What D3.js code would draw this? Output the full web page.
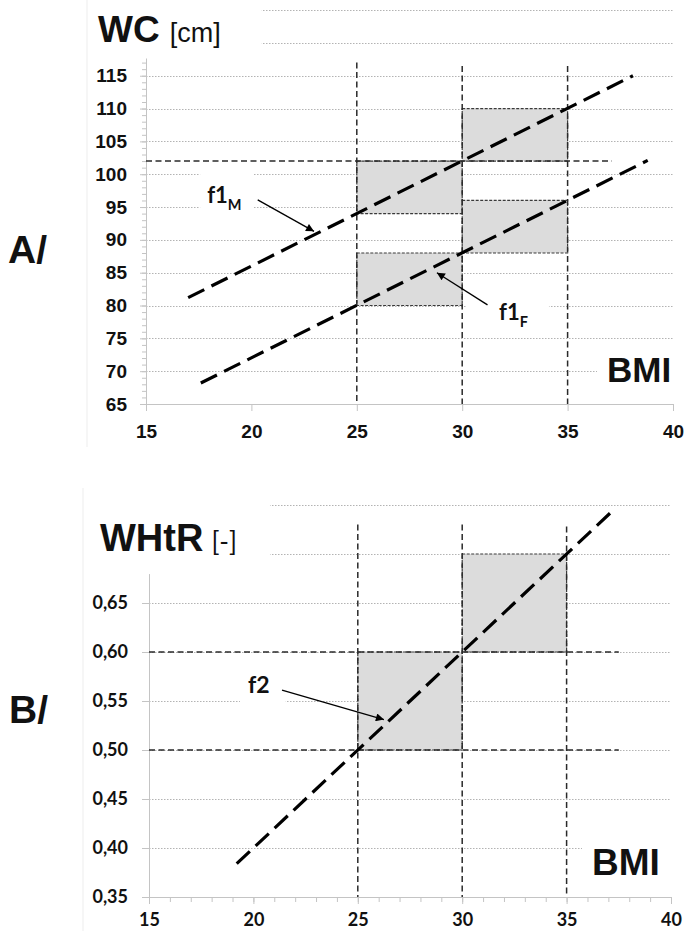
<!DOCTYPE html>
<html>
<head>
<meta charset="utf-8">
<script src="https://cdn.jsdelivr.net/npm/d3@7"></script>
<style>
  html, body { margin: 0; padding: 0; background: #fff; }
  svg { display: block; }
  .grid { stroke: #b3b3b3; stroke-width: 1; stroke-dasharray: 1.5,1.5; }
  .cut { stroke: #2a2a2a; stroke-width: 1.5; stroke-dasharray: 6,3.5; fill: none; }
  .box { fill: #dcdcdc; stroke: #3a3a3a; stroke-width: 1.2; stroke-dasharray: 3,1.5; }
  .fline { stroke: #000; stroke-width: 3.2; stroke-dasharray: 18,8; fill: none; }
  .arrow { stroke: #000; stroke-width: 1.3; fill: none; }
</style>
</head>
<body>
<svg id="chart" width="686" height="931"></svg>
<script>
// ---- Panel A: WC vs BMI ----
const bmiTicks = [15, 20, 25, 30, 35, 40];
const wcTicks = [65, 70, 75, 80, 85, 90, 95, 100, 105, 110, 115];
const wcGrid = [70, 75, 80, 85, 90, 95, 100, 105, 110, 115, 120, 125];
const bmiCutoffs = [25, 30, 35];
const wcCutoffTop = [117, 116.5, 116.5];   // where the vertical cut lines start
const wcCutoff = 102;
const wcCutoffEnd = 37.1;
const wcBoxes = [
  { bmi0: 25, bmi1: 30, lo: 94, hi: 102 },
  { bmi0: 30, bmi1: 35, lo: 102, hi: 110 },
  { bmi0: 30, bmi1: 35, lo: 88, hi: 96 },
  { bmi0: 25, bmi1: 30, lo: 80, hi: 88 }
];
const f1M = [{ bmi: 17.0, v: 81.2 }, { bmi: 38.1, v: 115.0 }];
const f1F = [{ bmi: 17.6, v: 68.2 }, { bmi: 38.8, v: 102.1 }];

// ---- Panel B: WHtR vs BMI ----
const whtrTicks = [0.35, 0.40, 0.45, 0.50, 0.55, 0.60, 0.65];
const whtrGrid = [0.40, 0.45, 0.50, 0.55, 0.60, 0.65, 0.70, 0.75];
const whtrCutoffs = [0.50, 0.60];
const whtrCutoffEnd = 37.5;
const whtrCutoffTop = [0.73, 0.73, 0.728];
const whtrBoxes = [
  { bmi0: 25, bmi1: 30, lo: 0.50, hi: 0.60 },
  { bmi0: 30, bmi1: 35, lo: 0.60, hi: 0.70 }
];
const f2 = [{ bmi: 19.2, v: 0.384 }, { bmi: 37.2, v: 0.744 }];

const ARIAL = '"Liberation Sans", Arial, sans-serif';
const CALI = 'Lato, "Open Sans", sans-serif';

const svg = d3.select("#chart");

// arrow head marker
svg.append("defs").append("marker")
  .attr("id", "head")
  .attr("viewBox", "0 0 10 10")
  .attr("refX", 10).attr("refY", 5)
  .attr("markerWidth", 10).attr("markerHeight", 8)
  .attr("markerUnits", "userSpaceOnUse")
  .attr("orient", "auto")
  .append("path").attr("d", "M0,0 L10,5 L0,10 z").attr("fill", "#000");

// white patch behind a text node (the grid is hidden under labels)
function addBg(layer, node, pad) {
  const b = node.getBBox();
  layer.append("rect")
    .attr("x", b.x - pad[3]).attr("y", b.y - pad[0])
    .attr("width", b.width + pad[1] + pad[3])
    .attr("height", b.height + pad[0] + pad[2])
    .attr("fill", "#fff");
}

function drawPanel(cfg) {
  const { x, y } = cfg;
  const root = svg.append("g");
  const gridL = root.append("g");
  const bgL = root.append("g");
  const markL = root.append("g");
  const textL = root.append("g");

  // faint chart-area border
  gridL.append("line")
    .attr("x1", cfg.borderX).attr("x2", cfg.borderX)
    .attr("y1", cfg.borderY[0]).attr("y2", cfg.borderY[1])
    .attr("stroke", "#ededed");

  // dotted grid
  gridL.selectAll("line.grid").data(cfg.grid).join("line")
    .attr("class", "grid")
    .attr("x1", x(15)).attr("x2", x(40))
    .attr("y1", d => Math.round(y(d)) + 0.5)
    .attr("y2", d => Math.round(y(d)) + 0.5);

  // axes
  const yAxisG = markL.append("g").attr("transform", `translate(${x(15)},0)`);
  if (cfg.yMinor) {
    yAxisG.append("g").call(d3.axisLeft(y).tickValues(cfg.yMinor).tickSize(4).tickFormat(""))
      .call(g => g.select(".domain").remove());
  }
  yAxisG.append("g").call(d3.axisLeft(y).tickValues(cfg.yTicks).tickSize(cfg.yTickSize)
      .tickSizeOuter(0).tickPadding(cfg.yPad).tickFormat(cfg.yFormat))
    .call(g => g.selectAll("text").attr("fill", "#111")
      .style("font", `bold ${cfg.yFont}px ${cfg.tickFamily}`));
  yAxisG.attr("color", "#c4c4c4");

  const xAxisG = markL.append("g").attr("transform", `translate(0,${y(cfg.yMin)})`).attr("color", "#c4c4c4");
  if (cfg.xMinor) {
    xAxisG.append("g").call(d3.axisBottom(x).tickValues(cfg.xMinor).tickSize(5).tickFormat(""))
      .call(g => g.select(".domain").remove());
  }
  xAxisG.append("g").call(d3.axisBottom(x).tickValues(bmiTicks).tickSize(7)
      .tickSizeOuter(0).tickPadding(cfg.xPad))
    .call(g => g.selectAll("text").attr("fill", "#111")
      .style("font", `bold ${cfg.xFont}px ${cfg.tickFamily}`));

  // shaded boxes
  markL.selectAll("rect.box").data(cfg.boxes).join("rect")
    .attr("class", "box")
    .attr("x", d => x(d.bmi0)).attr("width", d => x(d.bmi1) - x(d.bmi0))
    .attr("y", d => y(d.hi)).attr("height", d => y(d.lo) - y(d.hi));

  // cut-off lines
  markL.selectAll("line.vcut").data(bmiCutoffs).join("line")
    .attr("class", "cut")
    .attr("x1", d => x(d)).attr("x2", d => x(d))
    .attr("y1", (d, i) => y(cfg.vTop[i])).attr("y2", y(cfg.yMin));
  markL.selectAll("line.hcut").data(cfg.hCuts).join("line")
    .attr("class", "cut")
    .attr("x1", x(15)).attr("x2", x(cfg.hCutEnd))
    .attr("y1", d => y(d)).attr("y2", d => y(d));

  // model lines
  const line = d3.line().x(d => x(d.bmi)).y(d => y(d.v));
  cfg.lines.forEach(l => markL.append("path").attr("class", "fline").attr("d", line(l)));

  // annotations with arrows
  cfg.notes.forEach(n => {
    markL.append("line").attr("class", "arrow")
      .attr("x1", x(n.from[0])).attr("y1", y(n.from[1]))
      .attr("x2", x(n.to[0])).attr("y2", y(n.to[1]))
      .attr("marker-end", "url(#head)");
    const t = textL.append("text")
      .attr("x", x(n.at[0])).attr("y", y(n.at[1]))
      .style("font", `bold ${n.size}px ${CALI}`).attr("fill", "#111")
      .text(n.text);
    if (n.sub) {
      t.append("tspan").attr("dy", n.size * 0.3)
        .style("font-size", `${n.size * 0.66}px`).text(n.sub);
    }
    addBg(bgL, t.node(), n.pad);
  });

  // title
  const title = textL.append("text")
    .attr("x", cfg.title.x).attr("y", cfg.title.y).attr("fill", "#111");
  title.append("tspan").style("font", `bold ${cfg.title.size}px ${ARIAL}`).text(cfg.title.main);
  title.append("tspan").attr("dx", cfg.title.gap)
    .style("font", `${cfg.title.unitSize}px ${cfg.title.unitFamily}`).text(cfg.title.unit);
  addBg(bgL, title.node(), cfg.title.pad);

  // BMI label
  const bmi = textL.append("text")
    .attr("x", cfg.bmiLabel.x).attr("y", cfg.bmiLabel.y)
    .style("font", `bold ${cfg.bmiLabel.size}px ${ARIAL}`).attr("fill", "#111")
    .text("BMI");
  addBg(bgL, bmi.node(), [0, 12, 0, 10]);

  // panel letter
  textL.append("text")
    .attr("x", cfg.letter.x).attr("y", cfg.letter.y)
    .style("font", `bold 39px ${ARIAL}`).attr("fill", "#111")
    .text(cfg.letter.text);
}

// Panel A
const xA = d3.scaleLinear().domain([15, 40]).range([146, 673]);
const yA = d3.scaleLinear().domain([65, 117.7]).range([404, 58]);
drawPanel({
  x: xA, y: yA, yMin: 65,
  borderX: 87, borderY: [0, 447],
  grid: wcGrid,
  yTicks: wcTicks, yMinor: d3.range(65, 118, 1), yTickSize: 6, yPad: 13, yFont: 19,
  yFormat: d3.format("d"),
  xMinor: null, xPad: 14, xFont: 19,
  tickFamily: ARIAL,
  boxes: wcBoxes,
  vTop: wcCutoffTop,
  hCuts: [wcCutoff], hCutEnd: wcCutoffEnd,
  lines: [f1M, f1F],
  notes: [
    { text: "f1", sub: "M", size: 22, at: [17.9, 95.6], from: [20.3, 96.1], to: [22.97, 91.3], pad: [12, 12, 0, 7] },
    { text: "f1", sub: "F", size: 22, at: [31.75, 77.8], from: [31.2, 80.1], to: [28.8, 85.0], pad: [2, 21, 0, 33] }
  ],
  title: { x: 98, y: 42, size: 37, main: "WC", gap: 10, unitSize: 27, unitFamily: ARIAL, unit: "[cm]", pad: [14, 41, 2, 8] },
  bmiLabel: { x: 607, y: 382, size: 35 },
  letter: { x: 8, y: 263, text: "A/" }
});

// Panel B
const xB = d3.scaleLinear().domain([15, 40]).range([149, 671]);
const yB = d3.scaleLinear().domain([0.35, 0.68]).range([897, 573.6]);
drawPanel({
  x: xB, y: yB, yMin: 0.35,
  borderX: 83, borderY: [488, 931],
  grid: whtrGrid,
  yTicks: whtrTicks, yMinor: null, yTickSize: 7, yPad: 14, yFont: 18,
  yFormat: d => d3.format(".2f")(d).replace(".", ","),
  xMinor: d3.range(15, 41, 1), xPad: 9, xFont: 18,
  tickFamily: CALI,
  boxes: whtrBoxes,
  vTop: whtrCutoffTop,
  hCuts: whtrCutoffs, hCutEnd: whtrCutoffEnd,
  lines: [f2],
  notes: [
    { text: "f2", sub: null, size: 23, at: [19.74, 0.558], from: [21.37, 0.561], to: [26.25, 0.531], pad: [2, 16, 4, 8] }
  ],
  title: { x: 100, y: 551, size: 38, main: "WHtR", gap: 8, unitSize: 26, unitFamily: CALI, unit: "[-]", pad: [22, 33, 8, 10] },
  bmiLabel: { x: 592, y: 875, size: 37 },
  letter: { x: 9, y: 723, text: "B/" }
});
</script>
</body>
</html>
